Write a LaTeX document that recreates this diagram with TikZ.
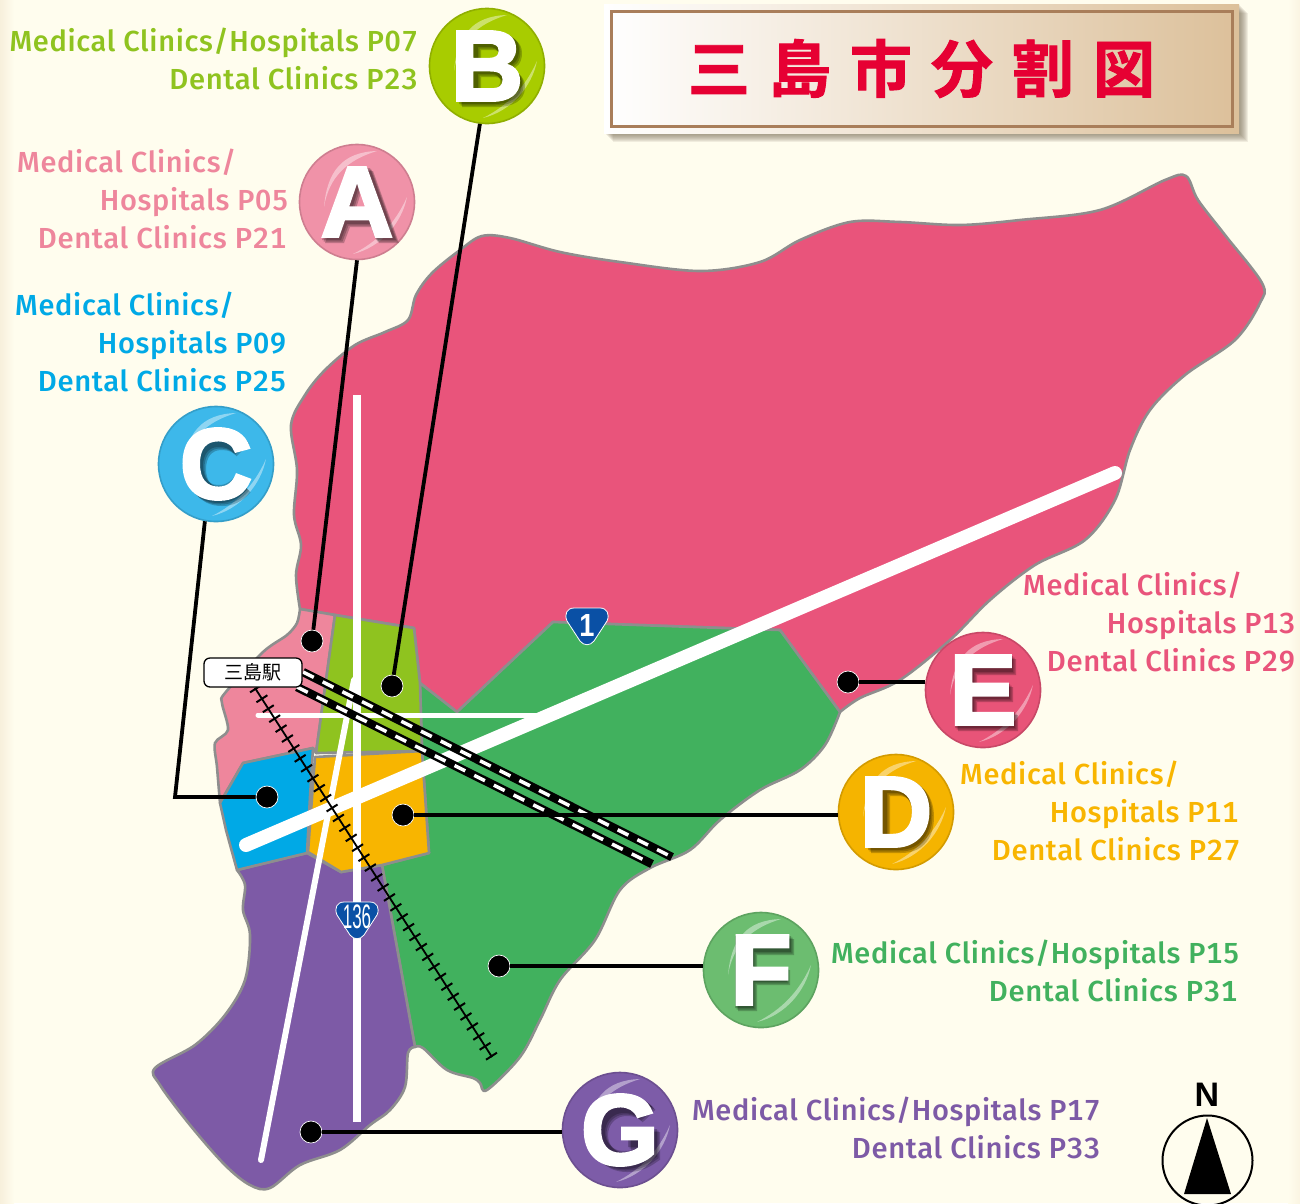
\documentclass[tikz,border=0pt]{standalone}
\usepackage{fontspec}
\setmainfont{Fira Sans Medium}[LetterSpace=2.3, Numbers=Monospaced]
\newfontfamily\cjkfont{Noto Sans CJK JP}
\newfontfamily\titlefont{Noto Sans CJK JP Bold}[FakeBold=1.5]
\newfontfamily\digitfont{Liberation Sans}
\newfontfamily\letterfont{Liberation Sans Bold}[FakeBold=3]
\usepackage{tikz}
\usepackage{xcolor}
\usetikzlibrary{positioning, shapes}

\definecolor{paper}{HTML}{FFFDEE}
\definecolor{edgegray}{HTML}{8E8E8E}
\definecolor{regA}{HTML}{EE869C}
\definecolor{regB}{HTML}{8FC31F}
\definecolor{regC}{HTML}{00A9E6}
\definecolor{regD}{HTML}{F8B500}
\definecolor{regE}{HTML}{E9547B}
\definecolor{regF}{HTML}{41B15E}
\definecolor{regG}{HTML}{7D5AA6}
\definecolor{ballA}{HTML}{F092A8}
\definecolor{ballB}{HTML}{A8CC00}
\definecolor{ballC}{HTML}{3DB8EA}
\definecolor{ballD}{HTML}{F5B400}
\definecolor{ballE}{HTML}{E85478}
\definecolor{ballF}{HTML}{6CBD70}
\definecolor{ballG}{HTML}{7D5CA8}
\definecolor{titlered}{HTML}{E60033}
\definecolor{titletan}{HTML}{DCC09A}
\definecolor{titleedge}{HTML}{A97E5A}
\definecolor{shieldblue}{HTML}{0A50A5}

\tikzset{
    region/.style={draw=edgegray, line width=2.6pt, line join=round},
    road/.style={draw=white, line cap=round},
    bubble/.style={circle, minimum size=115pt, inner sep=0pt, line width=1.6pt},
    glint/.style={fill=white, opacity=0.42},
    letterface/.style={font=\fontsize{100}{100}\letterfont, text=white, inner sep=0pt},
    backfill/.style={fill=black, opacity=0.22, even odd rule},
    backstroke/.style={draw=black, opacity=0.22, line width=18pt},
    spot/.style={circle, fill=black, draw=white, line width=0.7pt, minimum size=22pt, inner sep=0pt},
    lead/.style={draw=black, line width=3.8pt, line join=miter},
    clinic/.style={anchor=base east, inner sep=0pt, font=\fontsize{29}{29}\selectfont},
    clinicwide/.style={clinic, xscale=1.01},
    shield/.pic={
        \draw[fill=shieldblue, draw=white, line width=0.8pt] (-13,-18) -- (13,-18) .. controls (20,-18) and (23,-12) .. (20,-5) -- (7,15) .. controls (3,20) and (-3,20) .. (-7,15) -- (-20,-5) .. controls (-23,-12) and (-20,-18) .. (-13,-18) -- cycle;
    },
    backA/.pic={\path[backfill] (-11,-36) -- (11,-36) -- (37,36) -- (17,36) -- (11,20) -- (-12,20) -- (-18,36) -- (-37,36) -- cycle (0,-18) -- (-7,5) -- (7,5) -- cycle;},
    backB/.pic={\path[backfill] (-30,-36) -- (5,-36) .. controls (22,-36) and (30,-28) .. (30,-18) .. controls (30,-8) and (25,-3) .. (18,-1) .. controls (28,1) and (33,8) .. (33,16) .. controls (33,30) and (20,36) .. (5,36) -- (-30,36) -- cycle (-11,-21) -- (1,-21) .. controls (12,-21) and (12,-8) .. (1,-8) -- (-11,-8) -- cycle (-11,6) -- (3,6) .. controls (14,6) and (14,21) .. (3,21) -- (-11,21) -- cycle;},
    backC/.pic={\draw[backstroke] (22,-19) .. controls (16,-26) and (8,-28) .. (1,-28) .. controls (-17,-28) and (-24,-14) .. (-24,0) .. controls (-24,14) and (-17,28) .. (1,28) .. controls (9,28) and (16,25) .. (23,17);},
    backD/.pic={\path[backfill] (-30,-36) -- (0,-36) .. controls (24,-36) and (33,-18) .. (33,0) .. controls (33,18) and (24,36) .. (0,36) -- (-30,36) -- cycle (-11,-21) -- (-2,-21) .. controls (9,-21) and (14,-11) .. (14,0) .. controls (14,11) and (9,21) .. (-2,21) -- (-11,21) -- cycle;},
    backE/.pic={\path[backfill] (-30,-36) -- (28,-36) -- (28,-20) -- (-11,-20) -- (-11,-8) -- (25,-8) -- (25,7) -- (-11,7) -- (-11,20) -- (30,20) -- (30,36) -- (-30,36) -- cycle;},
    backF/.pic={\path[backfill] (-28,-36) -- (28,-36) -- (28,-20) -- (-9,-20) -- (-9,-5) -- (24,-5) -- (24,10) -- (-9,10) -- (-9,36) -- (-28,36) -- cycle;},
    backG/.pic={\draw[backstroke] (24,-19) .. controls (18,-26) and (9,-28) .. (2,-28) .. controls (-16,-28) and (-26,-14) .. (-26,0) .. controls (-26,14) and (-16,28) .. (2,28) .. controls (10,28) and (18,26) .. (26,20) -- (26,6) -- (6,6);}
}

\begin{document}
\begin{tikzpicture}[x=1pt, y=-1pt]
    \useasboundingbox (0,0) rectangle (1300,1203);
    \fill[paper] (0,0) rectangle (1300,1203);
    \shade[left color=titletan!22!paper, right color=paper] (0,0) rectangle (14,1203);
    \shade[left color=paper, right color=titletan!14!paper] (1288,0) rectangle (1300,1203);

    % districts
    \draw[region, fill=regE] (300,609) -- plot[smooth, tension=0.55] coordinates {(300,609) (296,575) (301,545) (294,515) (297,470) (291,425) (305,395) (325,370) (355,345) (385,332) (408,320) (416,295) (432,273) (460,250) (482,236) (510,238) (560,252) (620,262) (700,271) (760,262) (800,240) (850,222) (900,222) (960,225) (1020,220) (1100,210) (1165,180) (1186,176) (1198,200) (1225,235) (1262,283) (1260,303) (1235,340) (1185,375) (1150,410) (1130,450) (1115,500) (1085,540) (1035,565) (990,600) (950,640) (900,680) (860,698) (840,712)} -- (780,630) -- (553,622) -- (457,712) -- (420,683) -- (414,628) -- (335,615) -- cycle;
    \draw[region, fill=regF] (420,683) -- (457,712) -- (553,622) -- (780,630) -- plot[smooth, tension=0.55] coordinates {(840,712) (825,745) (800,770) (760,790) (720,820) (690,850) (650,868) (620,890) (595,940) (560,980) (540,1020) (520,1057) (487,1090) (480,1083) (473,1078) (447,1070) (423,1048) (415,1047)} -- (382,865) -- (429,853) -- (422,751) -- cycle;
    \draw[region, fill=regG] (237,870) -- (307,853) -- (341,872) -- (382,865) -- (415,1047) -- plot[smooth, tension=0.55] coordinates {(415,1047) (408,1053) (405,1087) (390,1110) (370,1125) (340,1150) (300,1165) (270,1188) (250,1185) (225,1165) (190,1125) (160,1085) (155,1068) (195,1045) (225,1015) (245,980) (250,935) (243,910) (245,885) (237,870)} -- cycle;
    \draw[region, fill=regA] (300,609) -- (335,615) -- (316,753) -- (313,748) -- (243,763) -- (220,803) -- plot[smooth, tension=0.5] coordinates {(220,803) (217,767) (215,743) (228,730) (222,703) (225,693) (263,652) (287,635) (297,623) (300,609)} -- cycle;
    \draw[region, fill=regC] (243,763) -- (313,748) -- (310,797) -- (307,853) -- (237,870) -- (226,830) -- (220,803) -- cycle;
    \draw[region, fill=regB] (335,615) -- (414,628) -- (420,683) -- (422,751) -- (316,753) -- cycle;
    \draw[region, fill=regD] (315,757) -- (422,751) -- (429,853) -- (382,865) -- (341,872) -- (308,852) -- cycle;

    % roads
    \draw[road, line width=8pt, line cap=butt] (357,395) -- (357,1122);
    \draw[road, line width=6pt] (261,1160) -- (354,680);
    \draw[road, line width=5pt] (258,715) -- (540,715);
    \draw[road, line width=14pt] (246,845) -- (1115,473);

    % rails
    \draw[black, line width=8.5pt] (303,672) -- (672,857);
    \draw[white, line width=3.5pt, dash pattern=on 12pt off 10pt] (303,672) -- (670,856);
    \draw[black, line width=8.5pt] (297,687) -- (652,864);
    \draw[white, line width=3.5pt, dash pattern=on 12pt off 10pt] (297,687) -- (650,863);
    \draw[black, line width=1.8pt] (255,688) -- (492,1057);
    \draw[black, line width=13pt, dash pattern=on 2pt off 9.8pt] (255,688) -- (492,1057);

    % route signs
    \pic at (587,626) {shield};
    \node[text=white, inner sep=0pt, font=\fontsize{32}{32}\digitfont\bfseries, xscale=0.85] (routeone) at (587,625) {1};
    \pic at (357,920) {shield};
    \node[text=white, inner sep=0pt, font=\fontsize{34}{34}\digitfont, xscale=0.5] (routeonethreesix) at (357,917) {136};

    % station
    \node[draw=black, fill=white, line width=1.3pt, rounded corners=6pt, minimum width=98pt, minimum height=29pt, inner sep=0pt, font=\fontsize{19}{19}\cjkfont] (station) at (253,672.5) {三島駅};

    % spots
    \node[spot] (spotA) at (312,641) {};
    \node[spot] (spotB) at (392,686) {};
    \node[spot] (spotC) at (267,797) {};
    \node[spot] (spotD) at (403,815) {};
    \node[spot] (spotE) at (848,682) {};
    \node[spot] (spotF) at (499,966) {};
    \node[spot] (spotG) at (311,1132) {};
    \coordinate (cornerC) at (175,797);

    % bubbles
    \foreach \nm/\x/\y in {A/357/202, B/487/66, C/216/464, D/896/812, E/983/690, F/761/970, G/620/1130} {
        \node[bubble, fill=ball\nm, draw=ball\nm!86!black] (bubble\nm) at (\x,\y) {};
        \begin{scope}[shift={(\x,\y)}]
            \fill[glint] (20,-51) .. controls (-15,-50) and (-30,-30) .. (-33,5) .. controls (-28,-25) and (-10,-42) .. (20,-51);
            \fill[glint] (50,-5) .. controls (45,20) and (25,45) .. (-4,52) .. controls (20,40) and (38,22) .. (50,-5);
            \foreach \d in {2,3.5,5} {
                \pic at (\d,\d) {back\nm};
            }
            \node[letterface] (letter\nm) at (0,0) {\nm};
        \end{scope}
    }

    % leaders
    \draw[lead] (bubbleA.south) -- (spotA);
    \draw[lead] (bubbleB.263) -- (spotB);
    \draw[lead] (bubbleC.259) -- (cornerC) -- (spotC);
    \draw[lead] (bubbleD.west |- spotD) -- (spotD);
    \draw[lead] (bubbleE.west |- spotE) -- (spotE);
    \draw[lead] (bubbleF.west |- spotF) -- (spotF);
    \draw[lead] (bubbleG.west |- spotG) -- (spotG);

    % labels
    \node[clinic, text=regB] (textBa) at (418,51) {Medical Clinics/Hospitals P07};
    \node[clinicwide, text=regB] (textBb) at (418,89) {Dental Clinics P23};
    \node[clinic, text=regA] (textAa) at (236.5,172) {Medical Clinics/};
    \node[clinic, text=regA] (textAb) at (288.5,210) {Hospitals P05};
    \node[clinicwide, text=regA] (textAc) at (286.5,248) {Dental Clinics P21};
    \node[clinic, text=regC] (textCa) at (234.5,315) {Medical Clinics/};
    \node[clinic, text=regC] (textCb) at (286.5,353) {Hospitals P09};
    \node[clinicwide, text=regC] (textCc) at (286.5,391) {Dental Clinics P25};
    \node[clinic, text=regE] (textEa) at (1242.5,595) {Medical Clinics/};
    \node[clinic, text=regE] (textEb) at (1295.5,633) {Hospitals P13};
    \node[clinicwide, text=regE] (textEc) at (1295.5,671) {Dental Clinics P29};
    \node[clinic, text=regD] (textDa) at (1179.5,784) {Medical Clinics/};
    \node[clinic, text=regD] (textDb) at (1238.5,822) {Hospitals P11};
    \node[clinicwide, text=regD] (textDc) at (1240.5,860) {Dental Clinics P27};
    \node[clinic, text=regF] (textFa) at (1239.5,963) {Medical Clinics/Hospitals P15};
    \node[clinicwide, text=regF] (textFb) at (1237.5,1001) {Dental Clinics P31};
    \node[clinic, text=regG] (textGa) at (1100.5,1120) {Medical Clinics/Hospitals P17};
    \node[clinicwide, text=regG] (textGb) at (1100.5,1158) {Dental Clinics P33};

    % title
    \foreach \s in {1,...,9} {
        \fill[black!45!titletan, opacity=0.11] (604+\s,4+\s) rectangle (1239+\s,133+\s);
    }
    \node[minimum width=635pt, minimum height=129pt, inner sep=0pt, left color=white, right color=titletan] (titlebox) at (921.5,68.5) {};
    \node[draw=titleedge, line width=3pt, minimum width=621pt, minimum height=115pt, inner sep=0pt, text=titlered, font=\fontsize{62}{62}\titlefont] (title) at (921.5,68.5) {三\hspace{19pt}島\hspace{19pt}市\hspace{19pt}分\hspace{19pt}割\hspace{19pt}図};

    % compass
    \node[inner sep=0pt, font=\fontsize{34}{34}\digitfont\bfseries] (northmark) at (1207,1095) {N};
    \node[circle, draw=black, line width=2pt, minimum size=90pt, inner sep=0pt] (compass) at (1207.5,1160.5) {};
    \fill[black] (1207,1118) -- (1231,1194) -- (1184,1194) -- cycle;
\end{tikzpicture}
\end{document}
